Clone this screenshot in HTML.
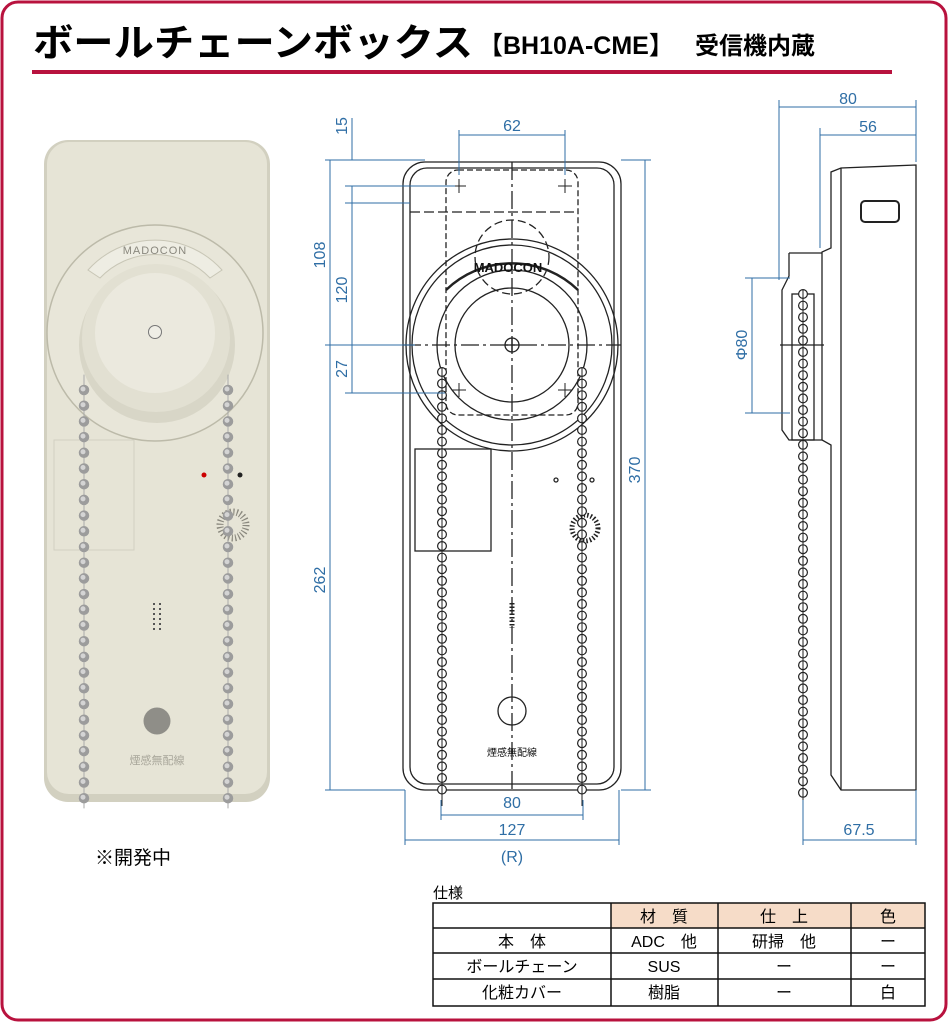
<!DOCTYPE html>
<html><head><meta charset="utf-8"><style>
html,body{margin:0;padding:0;background:#fff}
svg{display:block}
text{font-family:"Liberation Sans","Noto Sans CJK JP",sans-serif}
</style></head><body>
<svg width="949" height="1024" viewBox="0 0 949 1024" xmlns="http://www.w3.org/2000/svg">
<rect x="2" y="2" width="944" height="1018" rx="16" fill="#fff" stroke="#b8123e" stroke-width="3"/>
<text x="33" y="56" font-size="38" font-weight="bold" font-family="'Noto Sans CJK JP',sans-serif" fill="#000" textLength="440" lengthAdjust="spacingAndGlyphs">ボールチェーンボックス</text>
<text x="478" y="54" font-size="25" font-weight="bold" font-family="'Noto Sans CJK JP',sans-serif" fill="#000">【BH10A-CME】</text>
<text x="695" y="54" font-size="24" font-weight="bold" font-family="'Noto Sans CJK JP',sans-serif" fill="#000">受信機内蔵</text>
<rect x="32" y="70" width="860" height="4" fill="#b8123e"/>

<!-- photo -->
<rect x="44" y="140" width="226" height="662" rx="24" fill="#d2d0c0"/>
<rect x="47" y="142" width="220" height="652" rx="22" fill="#e6e4d6"/>
<circle cx="155" cy="333" r="108" fill="#e8e6d9" stroke="#bcbaa9" stroke-width="1.5"/>
<path d="M88 270 A90 90 0 0 1 222 270 L210 278 A76 76 0 0 0 100 278Z" fill="#eeede3" stroke="#c8c6b6"/>
<text x="155" y="254" font-size="11" text-anchor="middle" fill="#8a887e" letter-spacing="1">MADOCON</text>
<circle cx="157" cy="345" r="78" fill="#d8d6c7"/>
<circle cx="156" cy="338" r="74" fill="#e2e0d2"/>
<circle cx="155" cy="333" r="60" fill="#ebe9de"/>
<circle cx="155" cy="332" r="6.5" fill="#efeee6" stroke="#777" stroke-width="1"/>
<rect x="54" y="440" width="80" height="110" fill="none" stroke="#d2d0c2"/>
<circle cx="204" cy="475" r="2.5" fill="#c00"/><circle cx="240" cy="475" r="2.5" fill="#222"/>
<circle cx="233" cy="525" r="13" fill="none" stroke="#8a887e" stroke-width="7" stroke-dasharray="1.2 2.2"/>
<line x1="154" y1="603" x2="154" y2="632" stroke="#555" stroke-width="2" stroke-dasharray="2 3"/>
<line x1="160" y1="603" x2="160" y2="632" stroke="#555" stroke-width="2" stroke-dasharray="2 3"/>
<circle cx="157" cy="721" r="13.5" fill="#8f8e88"/>
<text x="157" y="764" font-size="11" text-anchor="middle" fill="#a8a69a" font-family="'Noto Sans CJK JP',sans-serif">煙感無配線</text>
<g stroke-linecap="round">
<line x1="84" y1="375" x2="84" y2="808" stroke="#aaa" stroke-width="1"/>
<line x1="228" y1="375" x2="228" y2="808" stroke="#aaa" stroke-width="1"/>
<line x1="84" y1="390" x2="84" y2="806" stroke="#9c9c9c" stroke-width="10.5" stroke-dasharray="0 15.7"/>
<line x1="228" y1="390" x2="228" y2="806" stroke="#9c9c9c" stroke-width="10.5" stroke-dasharray="0 15.7"/>
<line x1="83" y1="389" x2="83" y2="806" stroke="#d4d4d4" stroke-width="5" stroke-dasharray="0 15.7"/>
<line x1="227" y1="389" x2="227" y2="806" stroke="#d4d4d4" stroke-width="5" stroke-dasharray="0 15.7"/>
</g>
<text x="95" y="864" font-size="19" font-family="'Noto Sans CJK JP',sans-serif">※開発中</text>

<!-- front drawing -->
<g fill="none" stroke="#222" stroke-width="1.3">
<rect x="403" y="162" width="218" height="628" rx="22"/>
<rect x="410" y="168" width="204" height="616" rx="17"/>
<rect x="446" y="170" width="132" height="245" rx="12" stroke-dasharray="6 3"/>
<line x1="410" y1="212" x2="578" y2="212" stroke-dasharray="10 4"/>
<circle cx="512" cy="257" r="37" stroke-dasharray="8 4"/>
<circle cx="512" cy="345" r="106"/>
<circle cx="512" cy="345" r="100"/>
<circle cx="512" cy="345" r="75"/>
<circle cx="512" cy="345" r="57"/>
<circle cx="512" cy="345" r="7"/>
<line x1="505" y1="345" x2="519" y2="345"/><line x1="512" y1="338" x2="512" y2="352"/>
<line x1="512" y1="162" x2="512" y2="790" stroke-dasharray="18 4 3 4"/>
<line x1="403" y1="345" x2="621" y2="345" stroke-dasharray="18 4 3 4"/>
<path d="M446 290 A95 95 0 0 1 578 290" stroke-width="2.5"/>
<rect x="415" y="449" width="76" height="102"/>
<circle cx="512" cy="711" r="14"/>
<circle cx="556" cy="480" r="2"/><circle cx="592" cy="480" r="2"/>
<circle cx="585" cy="528" r="13" stroke-dasharray="1.5 2" stroke-width="5"/>
<line x1="512" y1="603" x2="512" y2="628" stroke-width="5" stroke-dasharray="1.5 2"/>
</g>
<g stroke="#222" stroke-width="1">
<path d="M452 186h14M459 179v14M558 186h14M565 179v14M452 390h14M459 383v14M558 390h14M565 383v14"/>
</g>
<text x="508" y="272" font-size="13" font-weight="bold" text-anchor="middle" fill="#111">MADOCON</text>
<text x="512" y="756" font-size="10" text-anchor="middle" fill="#111" font-family="'Noto Sans CJK JP',sans-serif">煙感無配線</text>
<g stroke-linecap="round">
<line x1="442" y1="372" x2="442" y2="800" stroke="#222" stroke-width="10" stroke-dasharray="0 11.6"/>
<line x1="442" y1="372" x2="442" y2="800" stroke="#fff" stroke-width="7.6" stroke-dasharray="0 11.6"/>
<line x1="582" y1="372" x2="582" y2="800" stroke="#222" stroke-width="10" stroke-dasharray="0 11.6"/>
<line x1="582" y1="372" x2="582" y2="800" stroke="#fff" stroke-width="7.6" stroke-dasharray="0 11.6"/>
</g>
<line x1="442" y1="368" x2="442" y2="806" stroke="#222" stroke-width="1"/>
<line x1="582" y1="368" x2="582" y2="806" stroke="#222" stroke-width="1"/>

<!-- side view -->
<g fill="none" stroke="#222" stroke-width="1.3">
<path d="M916 165 L841 168 L831 172 L831 248 L822 252 L822 440 L831 445 L831 775 L841 790 L916 790Z"/>
<line x1="841" y1="168" x2="841" y2="790"/>
<rect x="861" y="201" width="38" height="21" rx="4" stroke-width="2"/>
<path d="M789 253 L822 253 M789 253 L789 276 L782 290 L782 430 L789 440 L822 440"/>
<rect x="792" y="294" width="22" height="146"/>
<line x1="780" y1="345" x2="824" y2="345"/>
</g>
<g stroke-linecap="round">
<line x1="803" y1="294" x2="803" y2="800" stroke="#222" stroke-width="10" stroke-dasharray="0 11.6"/>
<line x1="803" y1="294" x2="803" y2="800" stroke="#fff" stroke-width="7.6" stroke-dasharray="0 11.6"/>
</g>
<line x1="803" y1="290" x2="803" y2="806" stroke="#222" stroke-width="1"/>

<!-- dimensions -->
<g stroke="#2f6ea5" stroke-width="1" fill="none">
<path d="M459 130v45M565 130v45M459 135h106"/>
<path d="M325 160h100M345 186h110M345 203h65M325 345h90M345 393h100M325 790h80"/>
<path d="M352 118v42M352 186v207M352 345v48"/>
<path d="M330 160v630"/>
<path d="M621 160h30M621 790h30M645 160v630"/>
<path d="M441 800v20M583 800v20M441 815h142"/>
<path d="M405 790v55M619 790v55M405 840h214"/>
<path d="M779 100v180M820 128v120M916 100v62M779 107h137M820 135h96"/>
<path d="M745 278h45M745 413h45M752 278v135"/>
<path d="M803 800v45M916 790v55M803 840h113"/>
</g>
<g font-size="16" fill="#2f6ea5">
<text x="512" y="131" text-anchor="middle">62</text>
<text transform="translate(347,126) rotate(-90)" text-anchor="middle">15</text>
<text transform="translate(325,255) rotate(-90)" text-anchor="middle">108</text>
<text transform="translate(347,290) rotate(-90)" text-anchor="middle">120</text>
<text transform="translate(347,369) rotate(-90)" text-anchor="middle">27</text>
<text transform="translate(325,580) rotate(-90)" text-anchor="middle">262</text>
<text transform="translate(640,470) rotate(-90)" text-anchor="middle">370</text>
<text x="512" y="808" text-anchor="middle">80</text>
<text x="512" y="835" text-anchor="middle">127</text>
<text x="512" y="862" text-anchor="middle">(R)</text>
<text x="848" y="104" text-anchor="middle">80</text>
<text x="868" y="132" text-anchor="middle">56</text>
<text transform="translate(747,345) rotate(-90)" text-anchor="middle">Φ80</text>
<text x="859" y="835" text-anchor="middle">67.5</text>
</g>

<!-- spec table -->
<text x="433" y="898" font-size="15" font-family="'Noto Sans CJK JP',sans-serif">仕様</text>
<rect x="611" y="903" width="314" height="25" fill="#f6dcc8"/>
<g stroke="#111" stroke-width="1.5" fill="none">
<rect x="433" y="903" width="492" height="103"/>
<path d="M433 928h492M433 953h492M433 979h492M611 903v103M718 903v103M851 903v103"/>
</g>
<g font-size="16" text-anchor="middle" font-family="'Noto Sans CJK JP',sans-serif">
<text x="664" y="922">材　質</text><text x="784" y="922">仕　上</text><text x="888" y="922">色</text>
<text x="522" y="947">本　体</text><text x="664" y="947">ADC　他</text><text x="784" y="947">研掃　他</text><text x="888" y="947">ー</text>
<text x="522" y="972">ボールチェーン</text><text x="664" y="972">SUS</text><text x="784" y="972">ー</text><text x="888" y="972">ー</text>
<text x="522" y="998">化粧カバー</text><text x="664" y="998">樹脂</text><text x="784" y="998">ー</text><text x="888" y="998">白</text>
</g>
</svg>
</body></html>
